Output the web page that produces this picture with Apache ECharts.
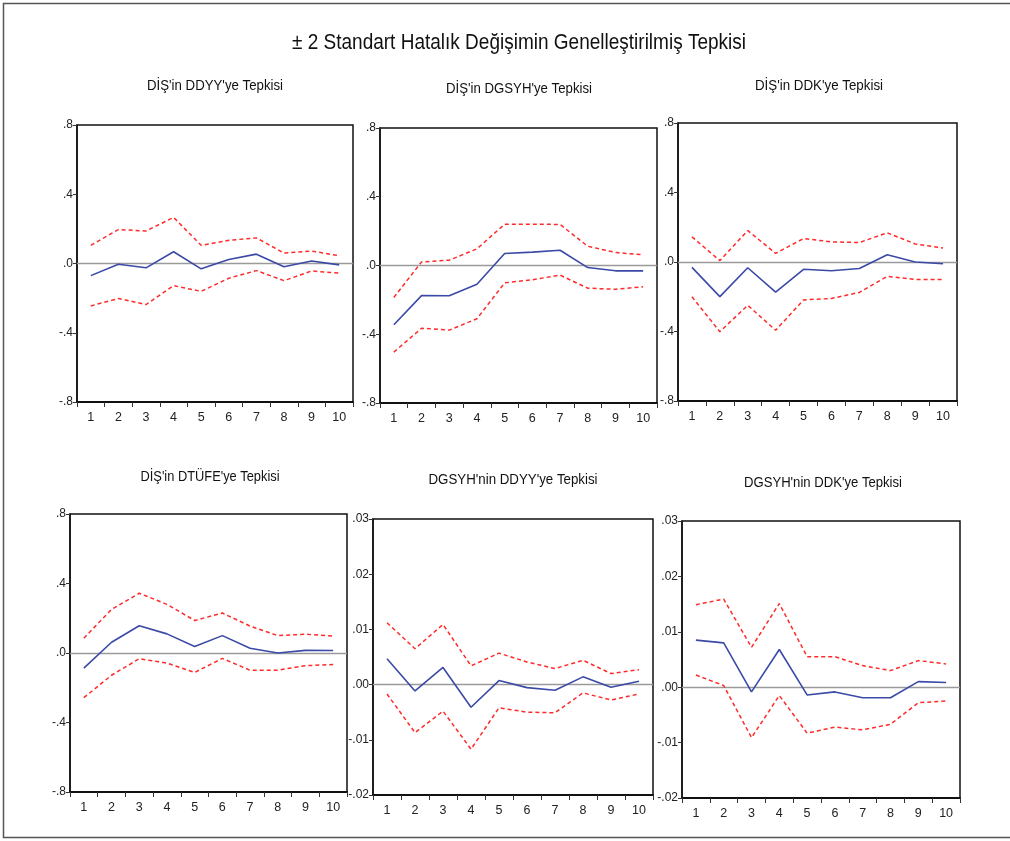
<!DOCTYPE html>
<html><head><meta charset="utf-8">
<script src="https://cdn.jsdelivr.net/npm/echarts@6/dist/echarts.min.js"></script>
<style>html,body{margin:0;padding:0;background:#fff}#c{width:1010px;height:841px}</style>
</head><body><div id="c"></div>
<script>
var periods = ['1','2','3','4','5','6','7','8','9','10'];
var mainTitle = '± 2 Standart Hatalık Değişimin Genelleştirilmiş Tepkisi';
var panelTitles = ["DİŞ'in DDYY'ye Tepkisi", "DİŞ'in DGSYH'ye Tepkisi", "DİŞ'in DDK'ye Tepkisi",
                   "DİŞ'in DTÜFE'ye Tepkisi", "DGSYH'nin DDYY'ye Tepkisi", "DGSYH'nin DDK'ye Tepkisi"];

var p1Resp  = [-0.070,-0.004,-0.025,0.068,-0.031,0.023,0.054,-0.019,0.014,-0.008];
var p1Upper = [0.105,0.196,0.188,0.266,0.105,0.134,0.148,0.060,0.072,0.045];
var p1Lower = [-0.245,-0.202,-0.237,-0.128,-0.161,-0.085,-0.041,-0.099,-0.043,-0.056];

var p2Resp  = [-0.345,-0.175,-0.176,-0.109,0.070,0.078,0.089,-0.012,-0.031,-0.031];
var p2Upper = [-0.186,0.021,0.031,0.097,0.240,0.240,0.239,0.112,0.076,0.062];
var p2Lower = [-0.504,-0.365,-0.376,-0.310,-0.101,-0.083,-0.056,-0.132,-0.138,-0.124];

var p3Resp  = [-0.031,-0.199,-0.033,-0.173,-0.042,-0.050,-0.037,0.042,0.000,-0.010];
var p3Upper = [0.145,0.008,0.181,0.050,0.135,0.116,0.112,0.168,0.104,0.081];
var p3Lower = [-0.200,-0.401,-0.249,-0.393,-0.218,-0.210,-0.175,-0.083,-0.100,-0.100];

var p4Resp  = [-0.087,0.062,0.157,0.110,0.037,0.100,0.027,0.000,0.015,0.014];
var p4Upper = [0.085,0.251,0.344,0.280,0.187,0.230,0.155,0.100,0.108,0.097];
var p4Lower = [-0.257,-0.128,-0.033,-0.058,-0.112,-0.031,-0.099,-0.099,-0.073,-0.066];

var p5Resp  = [0.0047,-0.00115,0.0031,-0.0041,0.00073,-0.00055,-0.00103,0.0014,-0.00048,0.0006];
var p5Upper = [0.0112,0.0065,0.0109,0.0034,0.0057,0.0041,0.0029,0.0044,0.0020,0.0027];
var p5Lower = [-0.0017,-0.0087,-0.0048,-0.0117,-0.0042,-0.0050,-0.0051,-0.0015,-0.0028,-0.0017];

var p6Resp  = [0.0085,0.0080,-0.00085,0.0068,-0.0014,-0.00085,-0.0019,-0.0019,0.0010,0.00085];
var p6Upper = [0.0149,0.0159,0.0072,0.0151,0.0055,0.0055,0.0039,0.0030,0.0048,0.0042];
var p6Lower = [0.0022,0.0003,-0.0091,-0.0015,-0.0083,-0.0072,-0.0077,-0.0067,-0.0028,-0.0025];

var bigScale   = {min:-0.8, max:0.8, interval:0.4, digits:1};
var smallScale = {min:-0.02, max:0.03, interval:0.01, digits:2};

// layout: box = [left, top, width, height]; tc = title centre; tw = title width
var panels = [
  {resp:p1Resp, up:p1Upper, lo:p1Lower, sc:bigScale,   box:[77,125,276,277],  tc:[215,86],  tw:136},
  {resp:p2Resp, up:p2Upper, lo:p2Lower, sc:bigScale,   box:[380,128,277,275], tc:[519,89],  tw:146},
  {resp:p3Resp, up:p3Upper, lo:p3Lower, sc:bigScale,   box:[678,123,279,278], tc:[819,86],  tw:128},
  {resp:p4Resp, up:p4Upper, lo:p4Lower, sc:bigScale,   box:[70,514,277,278],  tc:[210,477], tw:139},
  {resp:p5Resp, up:p5Upper, lo:p5Lower, sc:smallScale, box:[373,519,280,276], tc:[513,480], tw:169},
  {resp:p6Resp, up:p6Upper, lo:p6Lower, sc:smallScale, box:[682,521,278,277], tc:[823,483], tw:158}
];

var FONT = "'Liberation Sans',Arial,sans-serif";
var mctx = document.createElement('canvas').getContext('2d');
function narrow(text, font, target){
  mctx.font = font;
  var w = mctx.measureText(text).width;
  return w > 0 ? target / w : 1;
}

function fmt(v, d){
  var s = Math.abs(v).toFixed(d).replace(/^0/, '');
  return (v < -1e-9 ? '-' : '') + s;
}

var grids=[], xAxes=[], yAxes=[], series=[];
var mainFont = "22px " + FONT;
var graphics = [
  {type:'rect', shape:{x:3.5,y:3.5,width:1020,height:834}, style:{fill:null, stroke:'#555', lineWidth:1.5}, silent:true},
  {type:'text', x:519, y:43, scaleX:narrow(mainTitle, mainFont, 454), style:{text:mainTitle, textAlign:'center', textVerticalAlign:'middle', font:mainFont, fill:'#111'}}
];

panels.forEach(function(p,i){
  grids.push({left:p.box[0], top:p.box[1], width:p.box[2], height:p.box[3], show:true, borderColor:'#111', borderWidth:1.5, backgroundColor:'#fff'});
  xAxes.push({type:'category', gridIndex:i, data:periods, boundaryGap:true,
    axisLine:{show:true, onZero:false, lineStyle:{color:'#111', width:2.2}},
    axisTick:{show:true, inside:false, length:5, alignWithLabel:false, lineStyle:{color:'#333'}},
    axisLabel:{color:'#222', fontSize:12.5, fontFamily:FONT, margin:9},
    splitLine:{show:false}});
  var d = p.sc.digits;
  yAxes.push({type:'value', gridIndex:i, min:p.sc.min, max:p.sc.max, interval:p.sc.interval,
    axisLine:{show:true, lineStyle:{color:'#111', width:1.5}},
    axisTick:{show:true, inside:false, length:4, lineStyle:{color:'#333'}},
    axisLabel:{color:'#222', fontSize:12, fontFamily:FONT, margin:4, formatter:function(v){return fmt(v,d);}},
    splitLine:{show:false}});
  series.push({type:'line', xAxisIndex:i, yAxisIndex:i, data:p.up, symbol:'none', silent:true,
    lineStyle:{color:'#ff2a2a', width:1.5, type:[4,3]}, z:3});
  series.push({type:'line', xAxisIndex:i, yAxisIndex:i, data:p.lo, symbol:'none', silent:true,
    lineStyle:{color:'#ff2a2a', width:1.5, type:[4,3]}, z:3});
  series.push({type:'line', xAxisIndex:i, yAxisIndex:i, data:p.resp, symbol:'none', silent:true,
    lineStyle:{color:'#3a4aa6', width:1.6}, z:4,
    markLine:{silent:true, symbol:'none', label:{show:false}, animation:false,
      lineStyle:{color:'#9a9a9a', width:1.3, type:'solid'}, data:[{yAxis:0}], z:2}});
  var tf = "14px " + FONT;
  graphics.push({type:'text', x:p.tc[0], y:p.tc[1], scaleX:narrow(panelTitles[i], tf, p.tw),
    style:{text:panelTitles[i], textAlign:'center', textVerticalAlign:'middle', font:tf, fill:'#111'}});
});

var chart = echarts.init(document.getElementById('c'), null, {renderer:'canvas'});
chart.setOption({animation:false, grid:grids, xAxis:xAxes, yAxis:yAxes, series:series, graphic:graphics});
</script></body></html>
